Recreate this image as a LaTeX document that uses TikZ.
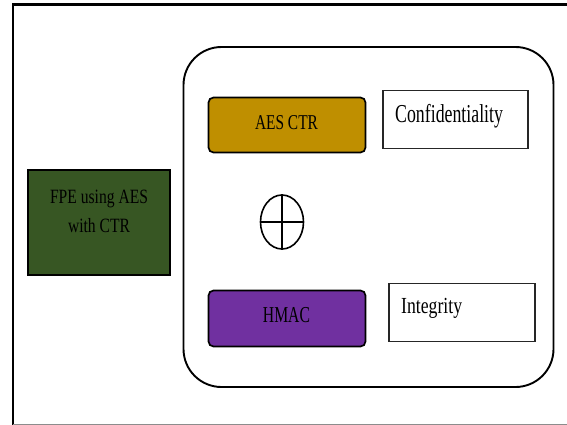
\documentclass[tikz,border=0pt]{standalone}
\usepackage{fontspec}
\setmainfont{Liberation Serif}
\usetikzlibrary{shapes.geometric}
% text that is set taller than its width
\newcommand{\tallt}[2]{\scalebox{1}[#1]{#2}}
\definecolor{fpegreen}{HTML}{375623}
\definecolor{aesgold}{HTML}{BF8F00}
\definecolor{hmacpurple}{HTML}{7030A0}
\begin{document}
\begin{tikzpicture}[x=1pt,y=-1pt,
  fillbox/.style={draw=black, line width=1.7pt, rounded corners=5pt, inner sep=0pt},
  plainbox/.style={draw=black!85, line width=1.7pt, fill=white, inner sep=0pt},
  lbl/.style={inner sep=0pt, text=black}
]
\useasboundingbox (0,0) rectangle (567,425);
\fill[white] (0,0) rectangle (567,425);

% outer frame
\draw[line width=2.4pt, black] (13,426) -- (13,4.5) -- (570,4.5);
\draw[line width=0.9pt, black!45] (13,424) -- (570,424);

% container
\draw[line width=1.9pt, rounded corners=38pt] (183.5,47) rectangle (553.5,387);

% FPE block
\node[draw=black, line width=1.5pt, fill=fpegreen, inner sep=0pt,
      minimum width=142pt, minimum height=105pt] (fpe) at (99,222.5) {};
\node[lbl, align=center, font=\fontsize{15.6}{29}\selectfont] (fpetext) at (99,211)
  {\tallt{1.3}{FPE using AES}\\\tallt{1.3}{with CTR}};

% AES CTR and HMAC blocks
\node[fillbox, fill=aesgold, minimum width=157pt, minimum height=55pt] (aes) at (287,125) {};
\node[lbl, anchor=base, font=\fontsize{15.4}{18}\selectfont] (aestext) at (286.5,129)
  {\tallt{1.37}{AES CTR}};

\node[fillbox, fill=hmacpurple, minimum width=157pt, minimum height=56pt] (hmac) at (287,318.5) {};
\node[lbl, anchor=base, font=\fontsize{15.7}{18}\selectfont] (hmactext) at (286.5,322)
  {\tallt{1.45}{HMAC}};

% property boxes
\node[plainbox, minimum width=145pt, minimum height=58pt] (conf) at (455.5,119.5) {};
\node[lbl, anchor=base west, font=\fontsize{17.8}{20}\selectfont] (conftext) at (395,123)
  {\tallt{1.45}{Confidentiality}};

\node[plainbox, minimum width=146pt, minimum height=58pt] (integ) at (462,312.5) {};
\node[lbl, anchor=base west, font=\fontsize{17.7}{20}\selectfont] (integtext) at (401,313)
  {\tallt{1.3}{Integrity}};

% combining operator
\node[ellipse, draw=black, line width=1.6pt, minimum width=43pt, minimum height=54pt,
      inner sep=0pt] (xor) at (282,222) {};
\draw[line width=1.6pt] (xor.north) -- (xor.south);
\draw[line width=1.6pt] (xor.west) -- (xor.east);
\end{tikzpicture}
\end{document}
